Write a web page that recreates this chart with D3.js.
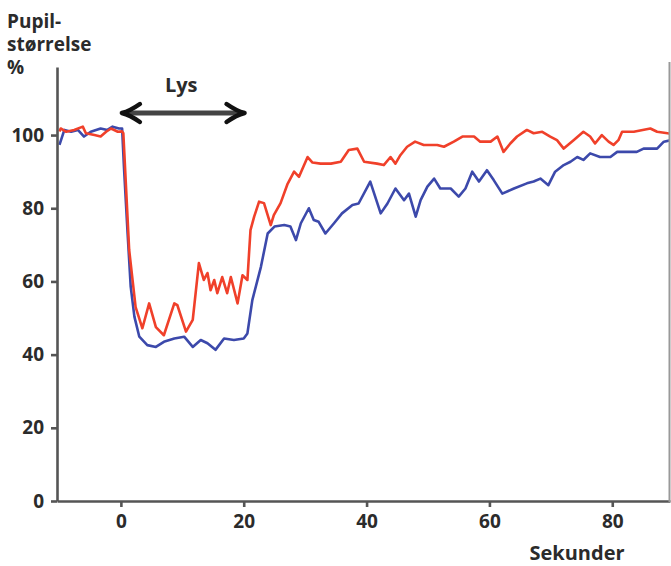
<!DOCTYPE html>
<html>
<head>
<meta charset="utf-8">
<script src="https://cdn.jsdelivr.net/npm/d3@7"></script>
<style>
  body { margin: 0; background: #fff; }
  text { font-family: "Open Sans", sans-serif; font-weight: 700; fill: #2b2b2b; }
</style>
</head>
<body>
<div id="chart"></div>
<script>
// values: time in seconds, pupil size in %
const redTime = [-10, -9.8, -8.9, -7.6, -6.2, -5.7, -4.3, -3.3, -2.4, -1.6, -0.5, 0.2, 0.4,
  1.35, 2.4, 3.5, 4.6, 5.7, 7.0, 8.7, 9.2, 10.6, 11.7, 12.7, 13.5, 14.1, 14.6, 15.2, 15.7,
  16.5, 17.3, 17.9, 19.0, 19.8, 20.6, 21.1, 21.7, 22.5, 23.3, 24.4, 24.9, 26.0, 27.1, 28.2,
  29.0, 30.4, 31.2, 32.5, 34.2, 35.8, 37.1, 38.5, 39.6, 41.7, 42.8, 43.9, 44.7, 45.5, 46.6,
  47.9, 49.3, 51.5, 52.6, 54.2, 55.6, 57.5, 58.5, 60.2, 61.3, 62.3, 63.4, 64.5, 66.1, 67.2,
  68.6, 69.9, 71.0, 72.1, 73.7, 75.3, 76.4, 77.2, 78.3, 79.4, 80.2, 81.0, 81.6, 83.5, 86.2,
  87.3, 89.0, 89.6];
const redVal = [101, 101.8, 100.9, 101.4, 102.3, 100.5, 100, 99.6, 100.9, 101.8, 100.9, 101, 100.5,
  68.6, 53, 47.2, 54, 47.5, 45.3, 54, 53.5, 46.3, 49.5, 65, 60.4, 62.3, 57.6, 60.4, 56.8,
  61.2, 56.8, 61.2, 54, 61.7, 60.4, 74, 77.7, 81.8, 81.4, 75.4, 78.1, 81.4, 86.5, 90,
  88.6, 94, 92.5, 92.2, 92.2, 92.7, 95.9, 96.3, 92.7, 92.2, 91.8, 94, 92.2, 94.5, 96.8,
  98.2, 97.3, 97.3, 96.8, 98.2, 99.6, 99.6, 98.2, 98.2, 99.6, 95.4, 97.7, 99.6, 101.4, 100.5,
  100.9, 99.6, 98.6, 96.3, 98.6, 100.9, 99.6, 97.7, 100, 98.2, 97.3, 98.6, 100.9, 100.9, 101.8,
  100.9, 100.5, 100.3];

const blueTime = [-10, -9.2, -8.1, -7.0, -6.0, -4.9, -3.3, -2.2, -1.35, -0.3, 0.2,
  0.5, 1.1, 1.6, 2.2, 3.0, 4.3, 5.7, 7.0, 8.7, 10.3, 11.7, 13.0, 14.1, 15.4, 16.8, 18.4,
  20.0, 20.6, 21.4, 22.8, 23.9, 25.0, 26.6, 27.6, 28.5, 29.3, 30.6, 31.4, 32.2, 33.3, 34.7,
  36.0, 37.7, 38.7, 40.6, 42.3, 43.4, 44.7, 46.1, 46.9, 48.0, 48.8, 49.9, 51.0, 52.0, 53.7,
  55.0, 56.1, 57.2, 58.3, 59.6, 60.7, 62.1, 64.0, 66.1, 67.2, 68.3, 69.6, 70.7, 72.1, 73.2,
  74.3, 75.3, 76.4, 78.0, 79.7, 80.8, 84.0, 85.1, 87.3, 88.4, 89.6];
const blueVal = [97.3, 101.4, 100.9, 101.4, 99.6, 100.9, 101.8, 101.4, 102.3, 101.8, 101.8,
  91.3, 73, 58.6, 50.4, 44.9, 42.6, 42.1, 43.5, 44.4, 44.9, 42.1, 44, 43.1, 41.3, 44.4, 44,
  44.4, 45.8, 54.9, 64, 73.1, 75, 75.4, 75, 71.3, 75.9, 80, 76.8, 76.3, 73.1, 75.9,
  78.6, 80.9, 81.3, 87.3, 78.6, 81.3, 85.4, 82.2, 84, 77.7, 82.2, 85.9, 88.1, 85.4, 85.4,
  83.2, 85.4, 90, 87.3, 90.4, 87.7, 84, 85.4, 86.8, 87.3, 88.1, 86.3, 90, 91.8, 92.7,
  94, 93.2, 95, 94, 94, 95.4, 95.4, 96.3, 96.3, 98.2, 98.6];

const xTicks = [0, 20, 40, 60, 80];
const yTicks = [0, 20, 40, 60, 80, 100];
const lightPeriod = [0, 20.3];

const width = 671;
const height = 566;

const x = d3.scaleLinear().domain([-10.4, 89.4]).range([57, 670]);
const y = d3.scaleLinear().domain([0, 118.6]).range([501, 67]);

const svg = d3.select('#chart')
  .append('svg')
  .attr('width', width)
  .attr('height', height);

svg.append('defs').append('clipPath')
  .attr('id', 'plot')
  .append('rect')
  .attr('x', 57).attr('y', 60)
  .attr('width', 612).attr('height', 445);

// lines
const line = d3.line()
  .x(d => x(d[0]))
  .y(d => y(d[1]));

const red = d3.zip(redTime, redVal);
const blue = d3.zip(blueTime, blueVal);

const plot = svg.append('g').attr('clip-path', 'url(#plot)');
plot.append('path')
  .datum(blue)
  .attr('d', line)
  .attr('fill', 'none')
  .attr('stroke', '#3c49ab')
  .attr('stroke-width', 2.6)
  .attr('stroke-linejoin', 'round');
plot.append('path')
  .datum(red)
  .attr('d', line)
  .attr('fill', 'none')
  .attr('stroke', '#f0402a')
  .attr('stroke-width', 2.6)
  .attr('stroke-linejoin', 'round');

// axes
const yAxis = svg.append('g')
  .attr('transform', 'translate(57,0)')
  .call(d3.axisLeft(y).tickValues(yTicks).tickSize(6).tickPadding(7).tickSizeOuter(0));
const xAxis = svg.append('g')
  .attr('transform', 'translate(0,501)')
  .call(d3.axisBottom(x).tickValues(xTicks).tickSize(6).tickPadding(8).tickSizeOuter(0));

[xAxis, yAxis].forEach(a => {
  a.select('.domain').attr('stroke', '#555').attr('stroke-width', 2.6);
  a.selectAll('.tick line').attr('stroke', '#555').attr('stroke-width', 2.6);
  a.selectAll('.tick text')
    .style('font-family', '"Open Sans", sans-serif')
    .style('font-weight', 700)
    .style('font-size', '19px')
    .attr('fill', '#222');
});

// right border line
svg.append('line')
  .attr('x1', 669.5).attr('x2', 669.5)
  .attr('y1', 62).attr('y2', 502)
  .attr('stroke', '#999')
  .attr('stroke-width', 2);

// axis titles
const ytitle = svg.append('text')
  .attr('x', 7)
  .style('font-size', '19px');
ytitle.append('tspan').attr('x', 7).attr('y', 28).text('Pupil-');
ytitle.append('tspan').attr('x', 7).attr('y', 51).text('størrelse');
ytitle.append('tspan').attr('x', 7).attr('y', 74).text('%');

svg.append('text')
  .attr('x', 577)
  .attr('y', 560)
  .attr('text-anchor', 'middle')
  .style('font-size', '20px')
  .text('Sekunder');

// light stimulus arrow
const ay = 113;
const ax0 = x(lightPeriod[0]);
const ax1 = x(lightPeriod[1]);
const arrow = svg.append('g')
  .attr('fill', 'none')
  .attr('stroke-linecap', 'round')
  .attr('stroke-linejoin', 'round');
arrow.append('line')
  .attr('x1', ax0 + 6).attr('x2', ax1 - 6)
  .attr('y1', ay).attr('y2', ay)
  .attr('stroke', '#444')
  .attr('stroke-width', 5);
arrow.append('path')
  .attr('d', `M${ax0 + 19},${ay - 9} Q${ax0 + 9},${ay - 2} ${ax0 + 1},${ay} Q${ax0 + 9},${ay + 2} ${ax0 + 19},${ay + 9}`)
  .attr('stroke', '#111')
  .attr('stroke-width', 4.5);
arrow.append('path')
  .attr('d', `M${ax1 - 19},${ay - 9} Q${ax1 - 9},${ay - 2} ${ax1 - 1},${ay} Q${ax1 - 9},${ay + 2} ${ax1 - 19},${ay + 9}`)
  .attr('stroke', '#111')
  .attr('stroke-width', 4.5);

svg.append('text')
  .attr('x', (ax0 + ax1) / 2 - 2)
  .attr('y', 92)
  .attr('text-anchor', 'middle')
  .style('font-size', '20px')
  .text('Lys');
</script>
</body>
</html>
